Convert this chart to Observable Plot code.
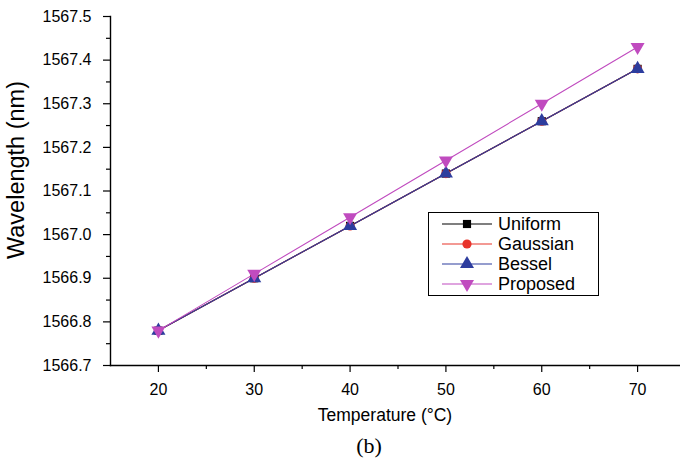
<!DOCTYPE html>
<html>
<head>
<meta charset="utf-8">
<script src="https://cdn.jsdelivr.net/npm/d3@7"></script>
<script src="https://cdn.jsdelivr.net/npm/@observablehq/plot@0.6"></script>
<style>
  html, body { margin: 0; padding: 0; background: #fff; }
  #wrap { position: relative; width: 680px; height: 462px; font-family: "Liberation Sans", Arial, sans-serif; }
  #legend { position: absolute; left: 428px; top: 212px; }
</style>
</head>
<body>
<div id="wrap"></div>
<script>
// ---- data ----
const temperatures = [20, 30, 40, 50, 60, 70];
const uniform  = [1566.78, 1566.90, 1567.02, 1567.14, 1567.26, 1567.38];
const gaussian = [1566.78, 1566.90, 1567.02, 1567.14, 1567.26, 1567.38];
const bessel   = [1566.78, 1566.90, 1567.02, 1567.14, 1567.26, 1567.38];
const proposed = [1566.78, 1566.91, 1567.04, 1567.17, 1567.30, 1567.43];
const seriesNames = ["Uniform", "Gaussian", "Bessel", "Proposed"];
const seriesColors = ["#000000", "#e8342b", "#2d3d9e", "#c04bbf"];
const xTicks = [20, 30, 40, 50, 60, 70];
const xMinor = [25, 35, 45, 55, 65];
const yTicks = [1566.7, 1566.8, 1566.9, 1567.0, 1567.1, 1567.2, 1567.3, 1567.4, 1567.5];
const yMinor = [1566.75, 1566.85, 1566.95, 1567.05, 1567.15, 1567.25, 1567.35, 1567.45];

const seriesValues = [uniform, gaussian, bessel, proposed];
const rows = [];
seriesNames.forEach((s, i) => temperatures.forEach((t, j) => rows.push({series: s, t, w: seriesValues[i][j]})));

// triangle symbols (up / down)
function tri(dir) {
  return {
    draw(ctx, size) {
      const s = Math.sqrt(4 * size / Math.sqrt(3));
      const h = s * Math.sqrt(3) / 2;
      ctx.moveTo(0, dir * 2 * h / 3);
      ctx.lineTo(-s / 2, -dir * h / 3);
      ctx.lineTo(s / 2, -dir * h / 3);
      ctx.closePath();
    }
  };
}
const symbols = [d3.symbolSquare, d3.symbolCircle, tri(-1), tri(1)];
const radii = {Uniform: 4.6, Gaussian: 4.6, Bessel: 5.2, Proposed: 5.2};

const font = "Liberation Sans, Arial, sans-serif";

const chart = Plot.plot({
  width: 680,
  height: 462,
  marginLeft: 110,
  marginRight: -5,
  marginTop: 16,
  marginBottom: 97,
  style: {fontFamily: font, fontSize: "16px", color: "#000", background: "#fff"},
  x: {domain: [15, 75], label: null},
  y: {domain: [1566.7, 1567.5], label: null},
  color: {domain: seriesNames, range: seriesColors},
  symbol: {domain: seriesNames, range: symbols},
  marks: [
    Plot.axisX({ticks: xTicks, tickSize: 7, tickPadding: 11, fontSize: 16, strokeWidth: 1.2, label: null}),
    Plot.axisX({ticks: xMinor, tickSize: 4, text: null, strokeWidth: 1.2, label: null}),
    Plot.axisY({ticks: yTicks, tickSize: 7, tickPadding: 12, tickFormat: d3.format(".1f"), fontSize: 16, strokeWidth: 1.2, label: null}),
    Plot.axisY({ticks: yMinor, tickSize: 4, text: null, strokeWidth: 1.2, label: null}),
    Plot.frame({anchor: "left", strokeWidth: 1.4}),
    Plot.frame({anchor: "bottom", strokeWidth: 1.4}),
    Plot.line(rows, {x: "t", y: "w", z: "series", stroke: "series", strokeWidth: 1.1}),
    ...seriesNames.map(s => Plot.dot(rows.filter(d => d.series === s), {
      x: "t", y: "w", fill: "series", symbol: "series", r: radii[s], stroke: "none"
    })),
    Plot.text(["Temperature (°C)"], {frameAnchor: "bottom", lineAnchor: "middle", dx: -13, dy: 50, fontSize: 17.5, fill: "#000"}),
    Plot.text(["(b)"], {frameAnchor: "bottom", lineAnchor: "middle", dx: -29, dy: 80, fontSize: 22, fontFamily: "Liberation Serif, Times New Roman, serif", fill: "#000"}),
    Plot.text(["Wavelength (nm)"], {frameAnchor: "left", textAnchor: "middle", lineAnchor: "middle", dx: -94, dy: -21, rotate: -90, fontSize: 23.5, fill: "#000"})
  ]
});
document.getElementById("wrap").appendChild(chart);

// ---- legend overlay ----
const lw = 171, lh = 84;
const leg = d3.select("#wrap").append("svg")
  .attr("id", "legend").attr("width", lw).attr("height", lh)
  .style("font-family", font);
leg.append("rect").attr("x", 0.5).attr("y", 0.5).attr("width", lw - 1).attr("height", lh - 1)
  .attr("fill", "#fff").attr("stroke", "#000").attr("stroke-width", 1);
const rowY = [12, 32, 52, 72];
seriesNames.forEach((s, i) => {
  const g = leg.append("g").attr("transform", `translate(0,${rowY[i]})`);
  g.append("line").attr("x1", 14).attr("x2", 64).attr("y1", 0).attr("y2", 0)
    .attr("stroke", seriesColors[i]).attr("stroke-width", 1.1);
  g.append("path").attr("transform", "translate(39,0)")
    .attr("d", d3.symbol(symbols[i], Math.PI * radii[s] * radii[s])())
    .attr("fill", seriesColors[i]);
  g.append("text").attr("x", 70).attr("y", 0).attr("dy", "0.35em")
    .attr("font-size", 18).attr("fill", "#000").text(s);
});
</script>
</body>
</html>
